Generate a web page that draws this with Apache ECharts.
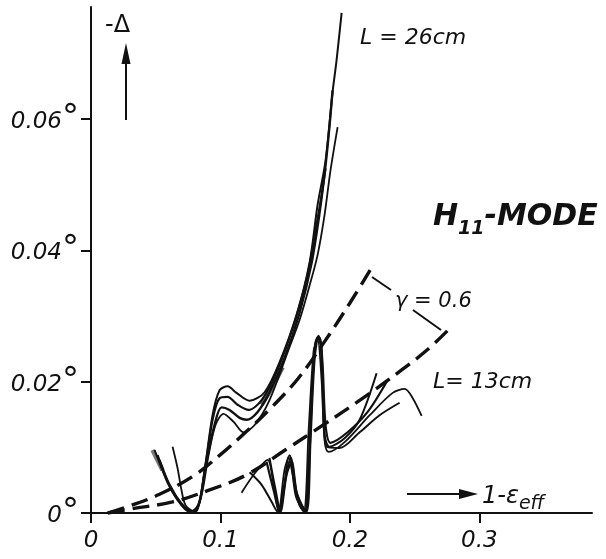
<!DOCTYPE html>
<html><head><meta charset="utf-8">
<script src="https://cdn.jsdelivr.net/npm/echarts@6/dist/echarts.min.js"></script>
<style>html,body{margin:0;padding:0;background:#fff}#c{width:606px;height:559px}</style>
</head><body><div id="c"></div>
<script>
// ---- tick values / labels ----
const xTicks = [0, 0.1, 0.2, 0.3];
const xTickLabels = ['0', '0.1', '0.2', '0.3'];
const yTicks = [0, 0.02, 0.04, 0.06];
const yTickLabels = ['0', '0.02', '0.04', '0.06'];

// ---- L = 26 cm measured curves [1-eps_eff, -Delta (deg)] ----
const L26_a = [[0.0491,0.0096],[0.0568,0.0058],[0.0668,0.0020],[0.0761,0.0002],[0.0815,0.0003],[0.0877,0.0065],[0.0939,0.0149],[0.0993,0.0187],[0.1055,0.0193],[0.1124,0.0183],[0.1225,0.0171],[0.1341,0.0184],[0.1457,0.0230],[0.1588,0.0302],[0.1689,0.0382],[0.1750,0.0469],[0.1812,0.0537],[0.1866,0.0641],[0.1897,0.0690],[0.1936,0.0762]];
const L26_b = [[0.0514,0.0088],[0.0591,0.0047],[0.0684,0.0017],[0.0784,0.0002],[0.0838,0.0017],[0.0892,0.0078],[0.0954,0.0134],[0.1008,0.0161],[0.1070,0.0157],[0.1148,0.0145],[0.1202,0.0142],[0.1287,0.0154],[0.1379,0.0184],[0.1495,0.0236],[0.1611,0.0305],[0.1704,0.0381],[0.1766,0.0458],[0.1812,0.0530],[0.1843,0.0591],[0.1866,0.0644]];
const L26_c = [[0.0630,0.0101],[0.0668,0.0069],[0.0699,0.0035],[0.0730,0.0012],[0.0800,0.0002],[0.0854,0.0027],[0.0908,0.0088],[0.0962,0.0134],[0.1024,0.0151],[0.1101,0.0139],[0.1178,0.0123],[0.1264,0.0134],[0.1379,0.0172],[0.1534,0.0253],[0.1611,0.0294],[0.1689,0.0347],[0.1750,0.0393],[0.1804,0.0454],[0.1850,0.0522],[0.1905,0.0588]];
const L26_d = [[0.0529,0.0081],[0.0607,0.0043],[0.0707,0.0012],[0.0769,0.0002],[0.0831,0.0012],[0.0885,0.0073],[0.0939,0.0142],[0.0993,0.0175],[0.1055,0.0177],[0.1132,0.0165],[0.1217,0.0157],[0.1318,0.0172],[0.1441,0.0218],[0.1573,0.0291],[0.1673,0.0363],[0.1735,0.0431],[0.1781,0.0484],[0.1812,0.0525]];
const L26_grey1 = [[0.0475,0.0096],[0.0553,0.0065]];
const L26_grey2 = [[0.1318,0.0165],[0.1395,0.0190],[0.1480,0.0222]];

// ---- L = 13 cm measured curves ----
const L13_a = [[0.1225,0.0062],[0.1318,0.0043],[0.1395,0.0017],[0.1441,0.0002],[0.1488,0.0035],[0.1526,0.0085],[0.1573,0.0043],[0.1611,0.0012],[0.1650,0.0002],[0.1681,0.0073],[0.1704,0.0172],[0.1727,0.0248],[0.1750,0.0268],[0.1774,0.0256],[0.1789,0.0187],[0.1804,0.0119],[0.1843,0.0101],[0.1959,0.0114],[0.2075,0.0142],[0.2206,0.0213]];
const L13_b = [[0.1356,0.0078],[0.1410,0.0035],[0.1457,0.0002],[0.1503,0.0053],[0.1542,0.0084],[0.1588,0.0032],[0.1658,0.0002],[0.1689,0.0096],[0.1712,0.0203],[0.1735,0.0260],[0.1766,0.0267],[0.1789,0.0225],[0.1812,0.0134],[0.1850,0.0107],[0.1982,0.0123],[0.2137,0.0154],[0.2284,0.0200]];
const L13_c = [[0.1163,0.0031],[0.1271,0.0062],[0.1364,0.0081],[0.1410,0.0043],[0.1449,0.0002],[0.1495,0.0066],[0.1534,0.0088],[0.1580,0.0027],[0.1642,0.0002],[0.1681,0.0126],[0.1720,0.0248],[0.1750,0.0264],[0.1781,0.0203],[0.1804,0.0111],[0.1835,0.0093],[0.1959,0.0108],[0.2153,0.0149],[0.2330,0.0183],[0.2423,0.0189],[0.2485,0.0175],[0.2554,0.0148]];
const L13_d = [[0.1379,0.0084],[0.1426,0.0035],[0.1464,0.0002],[0.1511,0.0058],[0.1550,0.0078],[0.1596,0.0024],[0.1665,0.0002],[0.1696,0.0111],[0.1727,0.0233],[0.1758,0.0270],[0.1781,0.0248],[0.1797,0.0157],[0.1820,0.0101],[0.1920,0.0099],[0.2075,0.0123],[0.2229,0.0149],[0.2384,0.0168]];

// ---- theoretical curves, gamma = 0.6 (dashed) ----
const gamma26 = [[0.013,0],[0.03,0.0011],[0.05,0.0026],[0.078,0.0055],[0.10,0.0089],[0.12,0.0124],[0.14,0.0162],[0.16,0.0205],[0.18,0.0260],[0.20,0.0320],[0.218,0.0378]];
const gamma13 = [[0.013,0],[0.03,0.0006],[0.063,0.0017],[0.09,0.0034],[0.12,0.0058],[0.15,0.0096],[0.18,0.0135],[0.21,0.0175],[0.24,0.0218],[0.26,0.0249],[0.277,0.0281]];

const FF = '"DejaVu Sans"';
const solid = (name, data, w, col) => ({
  name, type: 'line', data, smooth: 0.3, showSymbol: false, symbol: 'none',
  lineStyle: { color: col || '#111', width: w || 2 }, z: 3, silent: true
});
const dashed = (name, data) => ({
  name, type: 'line', data, smooth: 0.4, showSymbol: false, symbol: 'none',
  lineStyle: { color: '#111', width: 3.4, type: [17, 8], cap: 'butt' }, z: 2, silent: true
});

const chart = echarts.init(document.getElementById('c'), null, { renderer: 'canvas' });
chart.setOption({
  animation: false,
  backgroundColor: '#fff',
  grid: { left: 91, right: 14, top: 7, bottom: 46, containLabel: false },
  xAxis: {
    type: 'value', min: 0, max: 0.387,
    splitLine: { show: false },
    axisLine: { show: true, onZero: false, lineStyle: { color: '#111', width: 2 } },
    axisTick: { show: true, customValues: xTicks, length: 10, inside: false, lineStyle: { color: '#111', width: 2 } },
    axisLabel: {
      customValues: xTicks, margin: 17,
      formatter: v => { const i = xTicks.findIndex(t => Math.abs(t - v) < 1e-9); return i < 0 ? '' : xTickLabels[i]; },
      fontFamily: FF, fontStyle: 'italic', fontSize: 23, color: '#111'
    }
  },
  yAxis: {
    type: 'value', min: 0, max: 0.0771,
    splitLine: { show: false },
    axisLine: { show: true, onZero: false, lineStyle: { color: '#111', width: 2 } },
    axisTick: { show: true, customValues: yTicks, length: 10, inside: false, lineStyle: { color: '#111', width: 2 } },
    axisLabel: {
      customValues: yTicks, margin: 12,
      formatter: v => { const i = yTicks.findIndex(t => Math.abs(t - v) < 1e-9); return i < 0 ? '' : '{n|' + yTickLabels[i] + '}{d|°}'; },
      rich: {
        n: { fontFamily: FF, fontStyle: 'italic', fontSize: 23, lineHeight: 23, color: '#111', padding: [6, 0, 0, 0] },
        d: { fontFamily: FF, fontStyle: 'normal', fontSize: 34, lineHeight: 34, color: '#111', padding: [0, 0, 0, 0] }
      }
    }
  },
  series: [
    dashed('γ=0.6 L=26cm', gamma26),
    dashed('γ=0.6 L=13cm', gamma13),
    solid('L26 grey1', L26_grey1, 4.5, '#777'),
    solid('L26 grey2', L26_grey2, 4.5, '#666'),
    solid('L26 a', L26_a, 2),
    solid('L26 b', L26_b, 2.4),
    solid('L26 c', L26_c, 1.8),
    solid('L26 d', L26_d, 2.2),
    solid('L13 a', L13_a, 2),
    solid('L13 b', L13_b, 2.2),
    solid('L13 c', L13_c, 1.8),
    solid('L13 d', L13_d, 2)
  ],
  graphic: [
    { type: 'text', x: 105, y: 26, style: { text: '-Δ', font: 'normal 24px ' + FF, fill: '#111', align: 'left', verticalAlign: 'middle', textAlign: 'left', textVerticalAlign: 'middle' } },
    { type: 'line', shape: { x1: 126, y1: 120, x2: 126, y2: 58 }, style: { stroke: '#111', lineWidth: 2 } },
    { type: 'polygon', shape: { points: [[126, 43], [121.5, 64], [130.5, 64]] }, style: { fill: '#111' } },
    { type: 'text', x: 360, y: 38, style: { text: 'L = 26cm', font: 'italic 22px ' + FF, fill: '#111', align: 'left', verticalAlign: 'middle', textAlign: 'left', textVerticalAlign: 'middle' } },
    { type: 'text', x: 433, y: 217, style: {
        text: '{h|H}{s|11}{m|-MODE}', align: 'left', verticalAlign: 'middle', textAlign: 'left', textVerticalAlign: 'middle',
        rich: {
          h: { fontFamily: FF, fontStyle: 'italic', fontWeight: 'bold', fontSize: 30, lineHeight: 44, fill: '#111', color: '#111' },
          s: { fontFamily: FF, fontStyle: 'italic', fontWeight: 'bold', fontSize: 19, lineHeight: 20, padding: [24, 0, 0, 0], fill: '#111', color: '#111' },
          m: { fontFamily: FF, fontStyle: 'italic', fontWeight: 'bold', fontSize: 30, lineHeight: 44, fill: '#111', color: '#111' }
        } } },
    { type: 'text', x: 395, y: 302, style: { text: 'γ = 0.6', font: 'italic 21px ' + FF, fill: '#111', align: 'left', verticalAlign: 'middle', textAlign: 'left', textVerticalAlign: 'middle' } },
    { type: 'line', shape: { x1: 372, y1: 277, x2: 391, y2: 290 }, style: { stroke: '#111', lineWidth: 2 } },
    { type: 'line', shape: { x1: 413, y1: 310, x2: 441, y2: 330 }, style: { stroke: '#111', lineWidth: 2 } },
    { type: 'text', x: 433, y: 382, style: { text: 'L= 13cm', font: 'italic 22px ' + FF, fill: '#111', align: 'left', verticalAlign: 'middle', textAlign: 'left', textVerticalAlign: 'middle' } },
    { type: 'line', shape: { x1: 407, y1: 494, x2: 462, y2: 494 }, style: { stroke: '#111', lineWidth: 2 } },
    { type: 'polygon', shape: { points: [[478, 494], [459, 489], [459, 499]] }, style: { fill: '#111' } },
    { type: 'text', x: 482, y: 497, style: {
        text: '{a|1-ε}{b|eff}', align: 'left', verticalAlign: 'middle', textAlign: 'left', textVerticalAlign: 'middle',
        rich: {
          a: { fontFamily: FF, fontStyle: 'italic', fontSize: 24, lineHeight: 32, fill: '#111', color: '#111' },
          b: { fontFamily: FF, fontStyle: 'italic', fontSize: 19, lineHeight: 19, padding: [14, 0, 0, 0], fill: '#111', color: '#111' }
        } } }
  ]
});
</script></body></html>
